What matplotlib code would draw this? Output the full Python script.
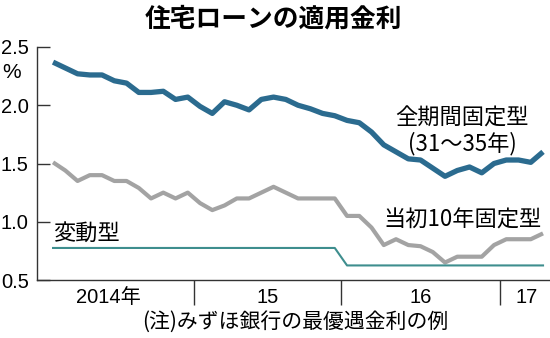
import matplotlib
matplotlib.use("Agg")
import matplotlib.pyplot as plt
import matplotlib.font_manager as fm

# ---- data (monthly, Jan 2014 - May 2017) ----
fixed_full = [2.37, 2.32, 2.27, 2.26, 2.26, 2.21, 2.19, 2.11, 2.11, 2.12, 2.05, 2.07,
              1.99, 1.93, 2.03, 2.00, 1.96, 2.05, 2.07, 2.05, 2.00, 1.97, 1.93, 1.91,
              1.87, 1.85, 1.77, 1.66, 1.60, 1.54, 1.53, 1.46, 1.39, 1.44, 1.47, 1.42,
              1.50, 1.53, 1.53, 1.51, 1.60]
fixed_10y = [1.51, 1.44, 1.35, 1.40, 1.40, 1.35, 1.35, 1.29, 1.20, 1.25, 1.20, 1.25,
             1.16, 1.10, 1.14, 1.20, 1.20, 1.25, 1.30, 1.25, 1.20, 1.20, 1.20, 1.20,
             1.05, 1.05, 0.95, 0.80, 0.85, 0.80, 0.79, 0.74, 0.65, 0.70, 0.70, 0.70,
             0.80, 0.85, 0.85, 0.85, 0.90]
variable = [0.775] * 24 + [0.625] * 17
year_labels = ["2014年", "15", "16", "17"]
year_label_pos = [4.5, 17.5, 30.0, 38.7]
year_sep_pos = [11.5, 23.5, 36.5]
yticks = [0.5, 1.0, 1.5, 2.0, 2.5]

names = {f.name for f in fm.fontManager.ttflist}
num_font = "Liberation Sans Narrow" if "Liberation Sans Narrow" in names else "Liberation Sans"
jp = ["Noto Sans CJK JP", "DejaVu Sans"]

BLUE = "#2b6b8f"
GRAY = "#a3a3a3"
TEAL = "#3e8e8e"

fig = plt.figure(figsize=(5.5, 3.38), dpi=100)
ax = fig.add_axes([37 / 550, 1 - 280 / 338, 1 - 37 / 550, 233 / 338])

x = list(range(len(fixed_full)))
ax.plot(x, fixed_full, color=BLUE, lw=3.8, solid_joinstyle="round", solid_capstyle="butt")
ax.plot(x, fixed_10y, color=GRAY, lw=3.0, solid_joinstyle="round", solid_capstyle="butt")
ax.plot(x, variable, color=TEAL, lw=1.5)

ax.set_xlim(-1.31, 40.57)
ax.set_ylim(0.5, 2.5)

for s in ["top", "right"]:
    ax.spines[s].set_visible(False)
ax.spines["left"].set_color("#333333")
ax.spines["bottom"].set_color("#333333")
ax.spines["left"].set_linewidth(1.0)
ax.spines["bottom"].set_linewidth(1.0)

ax.set_yticks(yticks)
ax.set_yticklabels([f"{v:.1f}" for v in yticks], fontfamily=num_font, fontsize=14.5)
ax.tick_params(axis="y", direction="in", length=9, width=1.0, color="#333333", pad=6)

ax.set_xticks(year_sep_pos)
ax.set_xticklabels([])
ax.tick_params(axis="x", which="major", direction="out", length=18, width=1.0, color="#333333")
ax.set_xticks(year_label_pos, minor=True)
ax.set_xticklabels(year_labels, minor=True, fontsize=14.5, family=[num_font] + jp)
ax.tick_params(axis="x", which="minor", length=0, pad=6)

fig.text(12 / 550, 1 - 72 / 338, "%", ha="center", va="center", fontsize=15, family=num_font)

fig.text(273 / 550, 1 - 19 / 338, "住宅ローンの適用金利", ha="center", va="center",
         fontsize=18.5, fontweight="bold", family=jp)
fig.text(295 / 550, 1 - 322 / 338, "(注)みずほ銀行の最優遇金利の例", ha="center", va="center",
         fontsize=15, family=jp)

ax.text(33.4, 1.89, "全期間固定型", ha="center", va="center", fontsize=16, family=jp)
ax.text(33.4, 1.675, "(31〜35年)", ha="center", va="center", fontsize=16, family=jp)
ax.text(33.4, 1.015, "当初10年固定型", ha="center", va="center", fontsize=16, family=jp)
ax.text(0, 0.90, "変動型", ha="left", va="center", fontsize=16, family=jp)

fig.savefig("out.png", dpi=100)
